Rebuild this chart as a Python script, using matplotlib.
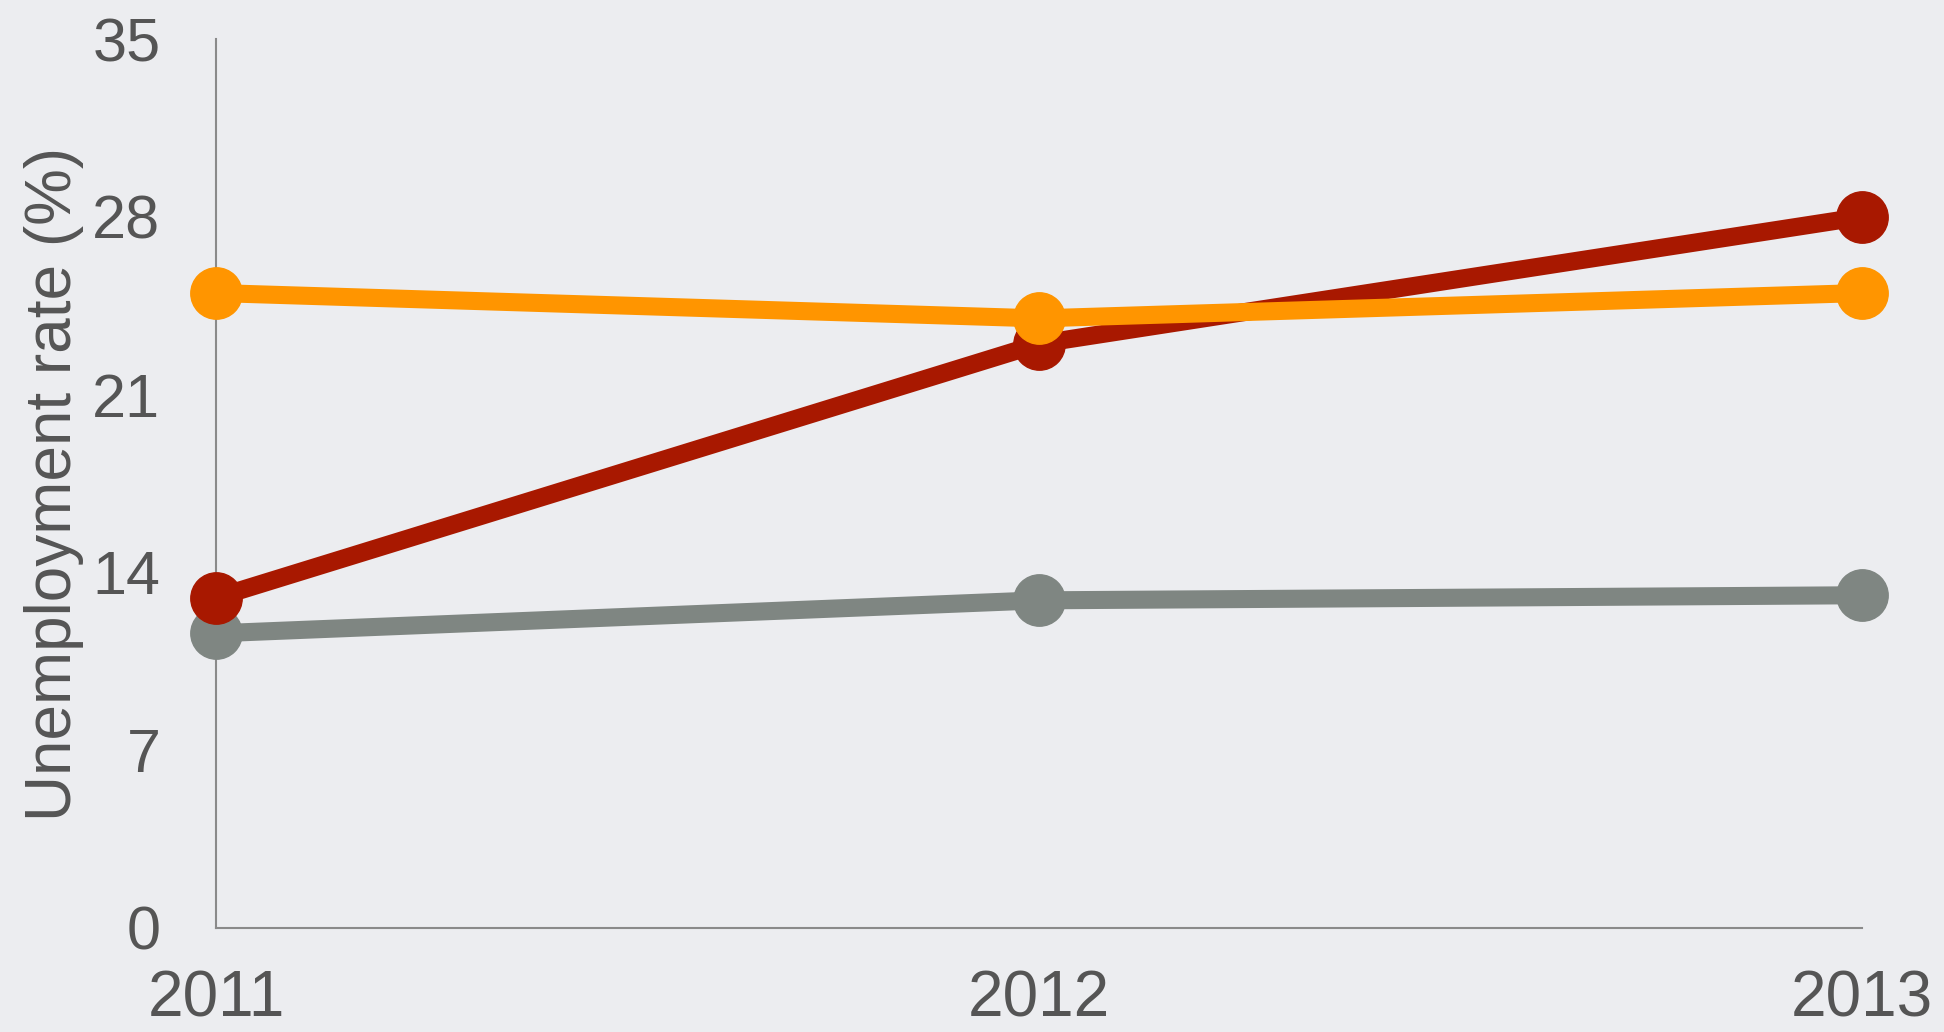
import matplotlib.pyplot as plt

years = [2011, 2012, 2013]
gray_vals = [11.6, 12.9, 13.1]
red_vals = [13.0, 23.0, 28.0]
orange_vals = [25.0, 24.0, 25.0]
y_ticks = [0, 7, 14, 21, 28, 35]

plt.rcParams['font.family'] = ['Liberation Sans', 'DejaVu Sans']
bg = '#ecedf0'
txt = '#555555'

fig = plt.figure(figsize=(19.44, 10.32), dpi=100, facecolor=bg)
ax = fig.add_axes([0.1111, 0.1008, 0.8467, 0.8614], facecolor=bg)

for vals, col in [(gray_vals, '#7f8682'), (red_vals, '#a81800'), (orange_vals, '#ff9500')]:
    ax.plot(years, vals, color=col, lw=13, marker='o', markersize=37,
            solid_capstyle='round', clip_on=False)

ax.set_xlim(2011, 2013)
ax.set_ylim(0, 35)
ax.set_xticks(years)
ax.set_xticklabels([str(y) for y in years])
ax.set_yticks(y_ticks)
ax.tick_params(length=0, labelsize=44, colors=txt)
ax.tick_params(axis='y', pad=40)
ax.tick_params(axis='x', pad=30, labelsize=46)
ax.set_ylabel('Unemployment rate (%)', fontsize=46, color=txt, labelpad=6)

for s in ['top', 'right']:
    ax.spines[s].set_visible(False)
for s in ['left', 'bottom']:
    ax.spines[s].set_color('#8a8a8a')
    ax.spines[s].set_linewidth(1.5)
    ax.spines[s].set_zorder(0)

fig.savefig('out.png', dpi=100, facecolor=bg)
